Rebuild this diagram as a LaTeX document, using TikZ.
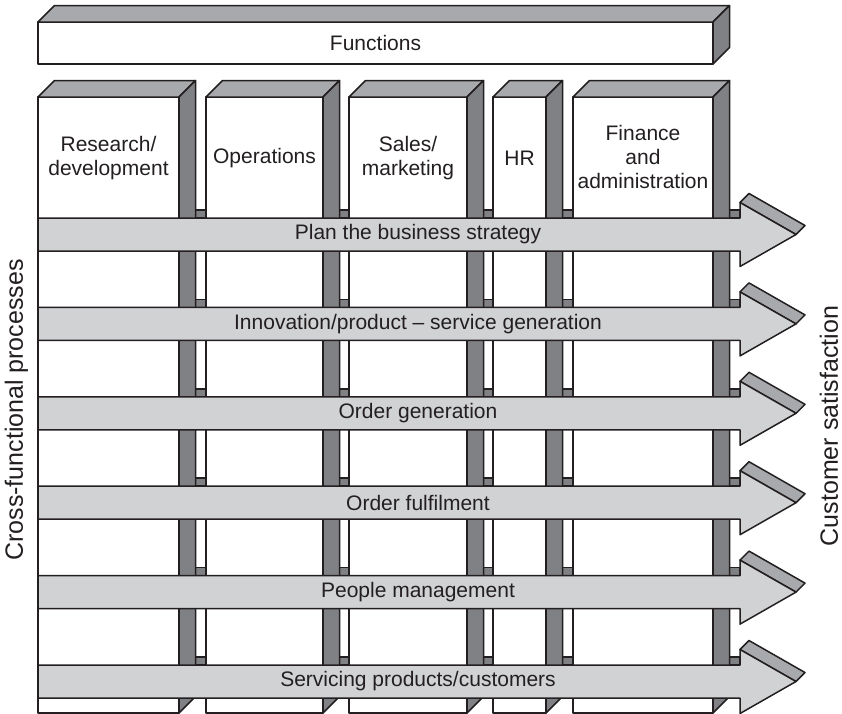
\documentclass[tikz,border=0pt]{standalone}
\usepackage{fontspec}
\setmainfont{Liberation Sans}
\definecolor{sidegray}{HTML}{808184}
\definecolor{topgray}{HTML}{A7A9AC}
\definecolor{arrowgray}{HTML}{D1D2D4}
\definecolor{linecol}{HTML}{231F20}
\newcommand\boxfont{\fontsize{21}{24}\selectfont}
\newcommand\sidefont{\fontsize{25}{28}\selectfont}
\begin{document}
\begin{tikzpicture}[x=1pt,y=-1pt,
  outl/.style={draw=linecol, line width=1.5pt, line join=round},
  lbl/.style={font=\boxfont, text=linecol, align=center, inner sep=0pt},
  vlbl/.style={font=\sidefont, text=linecol, rotate=90, inner sep=0pt}]
\useasboundingbox (0,0) rectangle (842,713);
% Functions box
\draw[outl, fill=white] (38,22) rectangle (713,64);
\draw[outl, fill=topgray] (38,22) -- (54.5,5.5) -- (729.5,5.5) -- (713,22) -- cycle;
\draw[outl, fill=sidegray] (713,22) -- (729.5,5.5) -- (729.5,47.5) -- (713,64) -- cycle;
\node[lbl] (functions) at (375.5,43) {Functions};
% arrow top faces (visible only between columns)
\foreach \k in {0,...,5}{
  \pgfmathsetmacro\yt{218+89.4*\k}
  \draw[outl, fill=sidegray] (38,\yt-8) rectangle (740,\yt);
}
% columns
\foreach \xl/\xr in {38/179, 206/323, 349/467, 493/546, 573/713}{
  \draw[outl, fill=white] (\xl,97) rectangle (\xr,713);
  \draw[outl, fill=topgray] (\xl,97) -- (\xl+16.5,80.5) -- (\xr+16.5,80.5) -- (\xr,97) -- cycle;
  \draw[outl, fill=sidegray] (\xr,97) -- (\xr+16.5,80.5) -- (\xr+16.5,696.5) -- (\xr,713) -- cycle;
}
\node[lbl] (rd) at (108.5,158) {Research/\\development};
\node[lbl] (ops) at (264.5,158) {Operations};
\node[lbl] (sm) at (408,158) {Sales/\\marketing};
\node[lbl] (hr) at (519.5,158) {HR};
\node[lbl] (fa) at (643,157) {Finance\\and\\administration};
% process arrows
\foreach \k in {0,...,5}{
  \pgfmathsetmacro\yt{218+89.4*\k}
  \pgfmathsetmacro\yb{\yt+33}
  \pgfmathsetmacro\ym{\yt+16.5}
  \draw[outl, fill=topgray] (740,\yt-15.5) -- (749,\yt-24.5) -- (805,\ym-9) -- (796,\ym) -- cycle;
  \draw[outl, fill=arrowgray] (38,\yt) -- (740,\yt) -- (740,\yt-15.5) -- (796,\ym) -- (740,\yb+15.5) -- (740,\yb) -- (38,\yb) -- cycle;
}
\node[lbl] (p1) at (418,234.5) {Plan the business strategy};
\node[lbl] (p2) at (418,323.9) {Innovation/product -- service generation};
\node[lbl] (p3) at (418,413.3) {Order generation};
\node[lbl] (p4) at (418,502.7) {Order fulfilment};
\node[lbl] (p5) at (418,592.1) {People management};
\node[lbl] (p6) at (418,681.5) {Servicing products/customers};
% side labels
\node[vlbl] (cfp) at (16.5,410) {Cross-functional processes};
\node[vlbl] (cs) at (829,426) {Customer satisfaction};
\end{tikzpicture}
\end{document}
